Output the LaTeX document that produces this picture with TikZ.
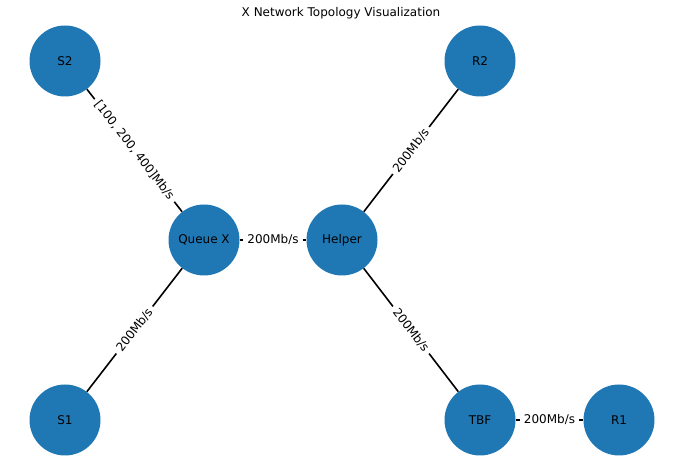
\documentclass[tikz,border=0pt]{standalone}
\usepackage{fontspec}
\setmainfont{DejaVu Sans}
\usetikzlibrary{positioning}
\definecolor{netblue}{HTML}{1F77B4}
\tikzset{x=1pt, y=1pt,
host/.style={circle, fill=netblue, minimum size=71pt, inner sep=0pt, font=\fontsize{12}{14}\selectfont},
link/.style={line width=1.6pt, black},
rate/.style={sloped, fill=white, inner xsep=4pt, inner ysep=2pt, font=\fontsize{12}{14}\selectfont},
}

\begin{document}
\begin{tikzpicture}
    \useasboundingbox (0,0) rectangle (683,465);
        \node[font=\fontsize{12}{14}\selectfont] (title) at (341,452) {X Network Topology Visualization};
        \node[host] (s2) at (65,404) {S2};
        \node[host] (r2) at (480,404) {R2};
        \node[host] (qx) at (204,225) {Queue X};
        \node[host] (helper) at (342,225) {Helper};
        \node[host] (s1) at (65,45) {S1};
        \node[host] (tbf) at (480,45) {TBF};
        \node[host] (r1) at (619,45) {R1};
        \draw[link]
        (s2) edge node[rate]{[100, 200, 400]Mb/s} (qx)
        (s1) edge node[rate]{200Mb/s} (qx)
        (qx) edge node[rate]{200Mb/s} (helper)
        (helper) edge node[rate]{200Mb/s} (r2)
        (helper) edge node[rate]{200Mb/s} (tbf)
        (tbf) edge node[rate]{200Mb/s} (r1)
        ;
    \end{tikzpicture}
\end{document}
